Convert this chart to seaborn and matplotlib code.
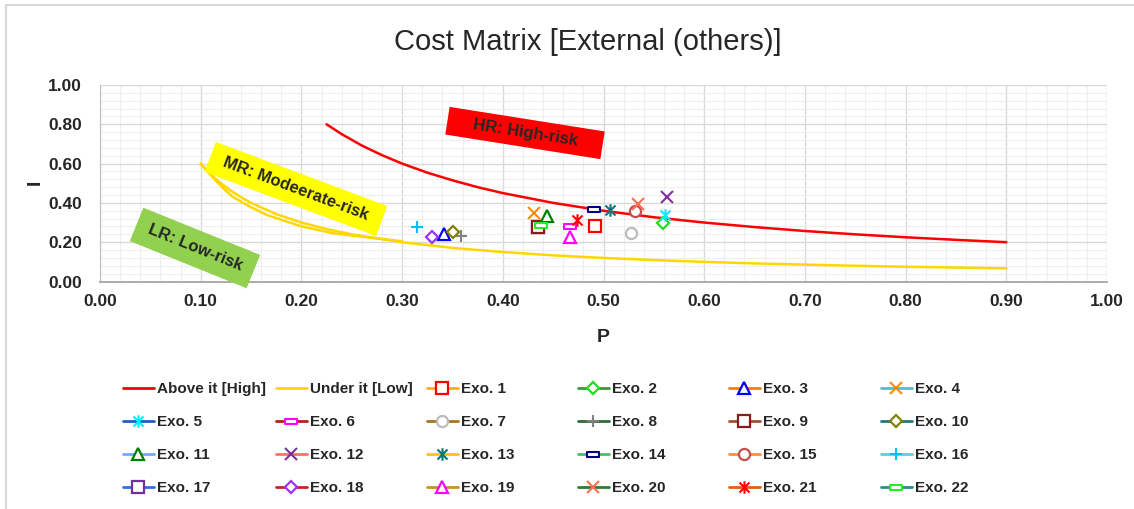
import matplotlib
matplotlib.use("Agg")
import matplotlib.pyplot as plt
import seaborn as sns
import pandas as pd
from matplotlib.lines import Line2D
from matplotlib.patches import Rectangle
from matplotlib.path import Path
from matplotlib.transforms import Affine2D
from matplotlib.ticker import MultipleLocator

sns.set_style("white")
plt.rcParams['font.family'] = ['Liberation Sans', 'DejaVu Sans']

# boundary curves
high_p = [0.225, 0.24, 0.26, 0.28, 0.30, 0.325, 0.35, 0.375, 0.40, 0.45, 0.50, 0.55, 0.60, 0.65,
          0.70, 0.75, 0.80, 0.85, 0.90]
high_i = [0.80, 0.75, 0.692, 0.643, 0.60, 0.554, 0.515, 0.48, 0.45, 0.40, 0.36, 0.327, 0.30, 0.277,
          0.257, 0.24, 0.225, 0.212, 0.20]
low_p = [0.10, 0.11, 0.12, 0.13, 0.14, 0.15, 0.175, 0.20, 0.225, 0.25, 0.30, 0.35, 0.40, 0.45, 0.50,
         0.55, 0.60, 0.65, 0.70, 0.75, 0.80, 0.85, 0.90]
low_i = [0.60, 0.545, 0.50, 0.462, 0.429, 0.40, 0.343, 0.30, 0.267, 0.24, 0.20, 0.171, 0.15, 0.133, 0.12,
         0.109, 0.10, 0.092, 0.086, 0.08, 0.075, 0.071, 0.067]
# second (sagging) trace of the low curve near its start
low2_p = [0.10, 0.108, 0.116, 0.124, 0.132, 0.15, 0.166, 0.199, 0.232, 0.265, 0.30]
low2_i = [0.60, 0.552, 0.508, 0.467, 0.43, 0.378, 0.338, 0.282, 0.245, 0.225, 0.205]

# exercises
exo_names = ["Exo. %d" % k for k in range(1, 23)]
exo_p = [0.492, 0.559, 0.342, 0.431, 0.561, 0.467, 0.527, 0.358, 0.435, 0.351, 0.444,
         0.563, 0.506, 0.491, 0.531, 0.3145, 0.435, 0.330, 0.467, 0.534, 0.4735, 0.4376]
exo_i = [0.282, 0.296, 0.242, 0.347, 0.338, 0.284, 0.248, 0.232, 0.276, 0.25, 0.335,
         0.428, 0.364, 0.367, 0.36, 0.279, 0.276, 0.228, 0.225, 0.394, 0.313, 0.2875]

star = Path([(-1, -1), (1, 1), (-1, 1), (1, -1), (0, -1.25), (0, 1.25)],
            [Path.MOVETO, Path.LINETO, Path.MOVETO, Path.LINETO, Path.MOVETO, Path.LINETO])
bar = Path([(-1, -0.4), (1, -0.4), (1, 0.4), (-1, 0.4), (-1, -0.4)],
           [Path.MOVETO, Path.LINETO, Path.LINETO, Path.LINETO, Path.CLOSEPOLY])

exo_markers = ['s', 'D', '^', 'x', star, bar, 'o', '+', 's', 'D', '^',
               'x', star, bar, 'o', '+', 's', 'D', '^', 'x', star, bar]
exo_mcolors = ['#FF0000', '#22DD22', '#0000FF', '#FF8C00', '#00EEFF', '#FF00FF', '#BBBBBB',
               '#808080', '#8B1A1A', '#808000', '#008000', '#7F2F9F', '#007878', '#000080',
               '#C0504D', '#00BFFF', '#7030A0', '#9933FF', '#FF00FF', '#FF6E50', '#FF0000', '#22EE22']
exo_lcolors = ['#FFB000', '#3A9A3A', '#FF7F00', '#4BC0D0', '#1F5FC0', '#B22222', '#A07820',
               '#2E6B3A', '#A0522D', '#1F7A7A', '#6FA8FF', '#FF7060', '#FFC020', '#4CC060',
               '#FF8C40', '#6BC8E0', '#3070E0', '#D02020', '#C8961E', '#2E7D32', '#E06010', '#2A8C8C']
msize = {'s': 8, 'D': 6.5, '^': 8, 'x': 8, 'o': 8, '+': 8}


def marker_kw(k):
    m = exo_markers[k]
    c = exo_mcolors[k]
    if m in ('x', '+'):
        return dict(marker=m, mec=c, ms=msize[m], mew=1.5)
    if m is star:
        return dict(marker=m, mec=c, mfc='none', ms=9, mew=1.5)
    if m is bar:
        return dict(marker=m, mec=c, mfc='white', ms=9, mew=1.5)
    return dict(marker=m, mec=c, mfc='white', ms=msize[m], mew=1.6)


W, H = 1134, 509
fig = plt.figure(figsize=(W / 100, H / 100), dpi=100)
ax = fig.add_axes([100 / W, 1 - 281.5 / H, 1007 / W, 196.5 / H])

sns.lineplot(x=high_p, y=high_i, ax=ax, color='#FF0000', lw=1.8, estimator=None, sort=False)
sns.lineplot(x=low_p, y=low_i, ax=ax, color='#FFD700', lw=1.8, estimator=None, sort=False)
sns.lineplot(x=low2_p, y=low2_i, ax=ax, color='#FFD700', lw=1.8, estimator=None, sort=False)

order = [16] + [k for k in range(22) if k != 16]
for k in order:
    ax.plot(exo_p[k], exo_i[k], ls='none', zorder=3, **marker_kw(k))

ax.set_xlim(0, 1)
ax.set_ylim(0, 1)
ax.xaxis.set_major_locator(MultipleLocator(0.1))
ax.xaxis.set_minor_locator(MultipleLocator(0.02))
ax.yaxis.set_major_locator(MultipleLocator(0.2))
ax.yaxis.set_minor_locator(MultipleLocator(0.04))
ax.xaxis.set_major_formatter(lambda v, p: "%.2f" % v)
ax.yaxis.set_major_formatter(lambda v, p: "%.2f" % v)
ax.grid(which='major', color='#D9D9D9', lw=1.0)
ax.grid(which='minor', color='#EEEEEE', lw=0.8)
ax.set_axisbelow(True)
for s in ['top', 'right']:
    ax.spines[s].set_visible(False)
ax.spines['left'].set_color('#BFBFBF')
ax.spines['bottom'].set_color('#A6A6A6')
ax.spines['bottom'].set_linewidth(1.3)
ax.tick_params(axis='x', which='major', length=4, width=1, color='#A6A6A6', pad=5, labelsize=12.5)
ax.tick_params(axis='y', which='major', length=0, pad=13, labelsize=12.5)
ax.tick_params(which='minor', length=0)
for lab in ax.get_xticklabels() + ax.get_yticklabels():
    lab.set_fontweight('bold')

fig.text(588 / W, 1 - 42 / H, "Cost Matrix [External (others)]", ha='center', va='center', fontsize=21)
fig.text(603 / W, 1 - 337 / H, "P", ha='center', va='center', fontsize=14, fontweight='bold')
fig.text(35 / W, 1 - 182 / H, "I", ha='center', va='center', fontsize=14, fontweight='bold', rotation=90)


# risk zone labels
def zone(cx, cy, w, h, ang, color, label):
    cx, cy, w, h = cx / 100, (H - cy) / 100, w / 100, h / 100
    tr = Affine2D().rotate_deg_around(cx, cy, ang) + fig.dpi_scale_trans
    fig.add_artist(Rectangle((cx - w / 2, cy - h / 2), w, h, transform=tr, fc=color, ec='none', zorder=4))
    fig.text(cx, cy, label, transform=fig.dpi_scale_trans, rotation=ang, rotation_mode='anchor',
             ha='center', va='center', fontsize=12, fontweight='bold', zorder=5)


zone(525, 133, 157, 28, -9, '#FF0000', "HR: High-risk")
zone(296, 189, 183, 32, -20.5, '#FFFF00', "MR: Modeerate-risk")
zone(195, 248, 126, 36, -22, '#92D050', "LR: Low-risk")

# legend, laid out row by row
handles = [Line2D([], [], color='#FF0000', lw=2), Line2D([], [], color='#FFD700', lw=2)]
labels = ["Above it [High]", "Under it [Low]"]
for k in range(22):
    handles.append(Line2D([], [], color=exo_lcolors[k], lw=2, **marker_kw(k)))
    labels.append(exo_names[k])

col_x = [123, 276, 427, 578, 729, 881]
for c in range(6):
    idx = [r * 6 + c for r in range(4)]
    fig.legend([handles[i] for i in idx], [labels[i] for i in idx], loc='upper left',
               bbox_to_anchor=(col_x[c] / W, 1 - 382 / H), frameon=False,
               prop={'weight': 'bold', 'size': 11}, handlelength=2.0, handletextpad=0.25,
               labelspacing=1.25, borderpad=0, borderaxespad=0)

fig.add_artist(Rectangle((6 / W, -0.1), 1.2, 1 - 5 / H + 0.1, transform=fig.transFigure,
                         fc='none', ec='#D9D9D9', lw=1.5))

fig.savefig("out.png", dpi=100)
